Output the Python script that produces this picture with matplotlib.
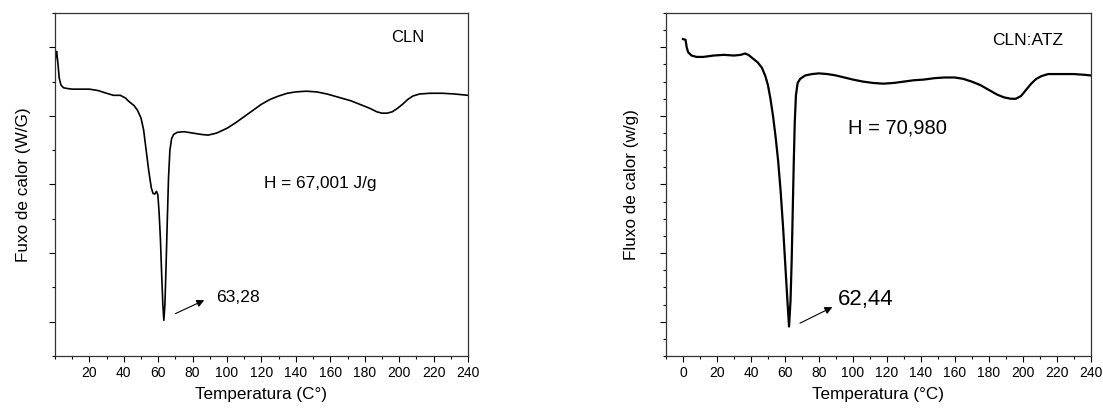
import matplotlib
matplotlib.use('Agg')
import matplotlib.pyplot as plt
from matplotlib.ticker import MultipleLocator, NullFormatter

plt.rcParams['font.family'] = ['Liberation Sans', 'DejaVu Sans']

# DSC - CLN puro
temp_cln = [0, 0.5, 1.0, 1.8, 2.5, 3.5, 5, 7, 10, 15, 20, 25, 30, 34, 38, 41, 43, 46, 48, 50,
            51.5, 53, 54.5, 56, 57, 58, 59, 59.8, 60.5, 61.3, 62, 62.7, 63.28, 63.9, 64.5, 65.2,
            66, 66.8, 67.8, 69, 71, 75, 80, 85, 89, 94, 100, 105, 110, 115, 120, 125, 130, 135,
            140, 146, 152, 158, 165, 172, 178, 183, 187, 190, 193, 196, 199, 202, 205, 208, 212,
            218, 225, 232, 240]
fluxo_cln = [4.75, 4.90, 4.94, 4.75, 4.55, 4.45, 4.41, 4.40, 4.39, 4.39, 4.39, 4.37, 4.33, 4.30,
             4.30, 4.26, 4.21, 4.15, 4.08, 3.97, 3.80, 3.50, 3.20, 2.95, 2.87, 2.86, 2.90, 2.85,
             2.60, 2.20, 1.70, 1.25, 1.02, 1.25, 1.75, 2.40, 3.10, 3.50, 3.67, 3.73, 3.76, 3.77,
             3.75, 3.73, 3.72, 3.75, 3.82, 3.90, 3.99, 4.08, 4.17, 4.24, 4.29, 4.33, 4.35, 4.36,
             4.35, 4.32, 4.27, 4.22, 4.16, 4.11, 4.06, 4.04, 4.04, 4.06, 4.11, 4.17, 4.24, 4.29,
             4.32, 4.33, 4.33, 4.32, 4.30]

# DSC - mistura CLN:ATZ
temp_mix = [0, 1.5, 2.2, 3, 5, 8, 12, 18, 24, 30, 34, 36.5, 38.5, 41, 44, 46.5, 48.5, 50, 51.5,
            53, 54.5, 56, 57.5, 59, 60.3, 61.5, 62.44, 63.3, 64, 64.6, 65.2, 65.8, 66.5, 67.5, 69,
            72, 76, 80, 85, 90, 95, 100, 106, 112, 118, 124, 130, 136, 142, 148, 154, 160, 165,
            170, 175, 180, 185, 189, 193, 196, 199, 202, 205, 208, 211, 215, 222, 230, 236, 240]
fluxo_mix = [5.12, 5.11, 5.00, 4.93, 4.88, 4.86, 4.86, 4.88, 4.89, 4.88, 4.89, 4.91, 4.89, 4.84,
             4.78, 4.70, 4.58, 4.45, 4.25, 4.00, 3.70, 3.35, 2.90, 2.35, 1.80, 1.30, 0.93, 1.30,
             1.90, 2.60, 3.30, 3.90, 4.30, 4.48, 4.54, 4.59, 4.61, 4.62, 4.61, 4.59, 4.56, 4.53,
             4.50, 4.48, 4.47, 4.48, 4.50, 4.52, 4.53, 4.55, 4.56, 4.56, 4.54, 4.50, 4.45, 4.38,
             4.31, 4.27, 4.25, 4.25, 4.29, 4.38, 4.47, 4.54, 4.58, 4.61, 4.61, 4.61, 4.60, 4.59]

fig = plt.figure(figsize=(11.03, 4.09), dpi=100)
ax1 = fig.add_axes([0.0498, 0.1296, 0.3745, 0.8386])
ax2 = fig.add_axes([0.6038, 0.1296, 0.3850, 0.8386])


def estilo(ax, xmin, ymin_step):
    ax.set_xlim(xmin, 240)
    ax.set_ylim(0.5, 5.5)
    ax.xaxis.set_major_locator(MultipleLocator(20))
    ax.xaxis.set_minor_locator(MultipleLocator(10))
    ax.yaxis.set_major_locator(MultipleLocator(1))
    ax.yaxis.set_minor_locator(MultipleLocator(ymin_step))
    ax.yaxis.set_major_formatter(NullFormatter())
    ax.tick_params(which='major', direction='out', length=4.5, width=0.8, labelsize=10, pad=3)
    ax.tick_params(which='minor', direction='out', length=2.5, width=0.8)
    for s in ax.spines.values():
        s.set_linewidth(0.9)
        s.set_color('#333333')


# CLN
ax1.plot(temp_cln, fluxo_cln, color='black', lw=1.2)
estilo(ax1, 0, 0.5)
ax1.set_xticks(range(20, 241, 20))
ax1.set_xlabel('Temperatura (C°)', fontsize=12.3, labelpad=5)
ax1.set_ylabel('Fuxo de calor (W/G)', fontsize=12.3, labelpad=10)
ax1.text(205, 5.14, 'CLN', fontsize=12, ha='center', va='center')
ax1.text(121.5, 3.01, 'H = 67,001 J/g', fontsize=12.4, ha='left', va='center')
ax1.annotate('', xy=(88.2, 1.33), xytext=(68.5, 1.10),
             arrowprops=dict(arrowstyle='-|>', color='black', lw=0.8, mutation_scale=11))
ax1.text(93.5, 1.35, '63,28', fontsize=12.6, ha='left', va='center')

# CLN:ATZ
ax2.plot(temp_mix, fluxo_mix, color='black', lw=1.6)
estilo(ax2, -10, 0.25)
ax2.set_xticks(range(0, 241, 20))
ax2.set_xlabel('Temperatura (°C)', fontsize=12.3, labelpad=5)
ax2.set_ylabel('Fluxo de calor (w/g)', fontsize=12.3, labelpad=12)
ax2.text(203, 5.10, 'CLN:ATZ', fontsize=12.5, ha='center', va='center')
ax2.text(97, 3.83, 'H = 70,980', fontsize=14.5, ha='left', va='center')
ax2.annotate('', xy=(89.4, 1.23), xytext=(67.4, 0.96),
             arrowprops=dict(arrowstyle='-|>', color='black', lw=0.8, mutation_scale=11))
ax2.text(91, 1.32, '62,44', fontsize=16, ha='left', va='center')

fig.savefig('out.png', dpi=100)
